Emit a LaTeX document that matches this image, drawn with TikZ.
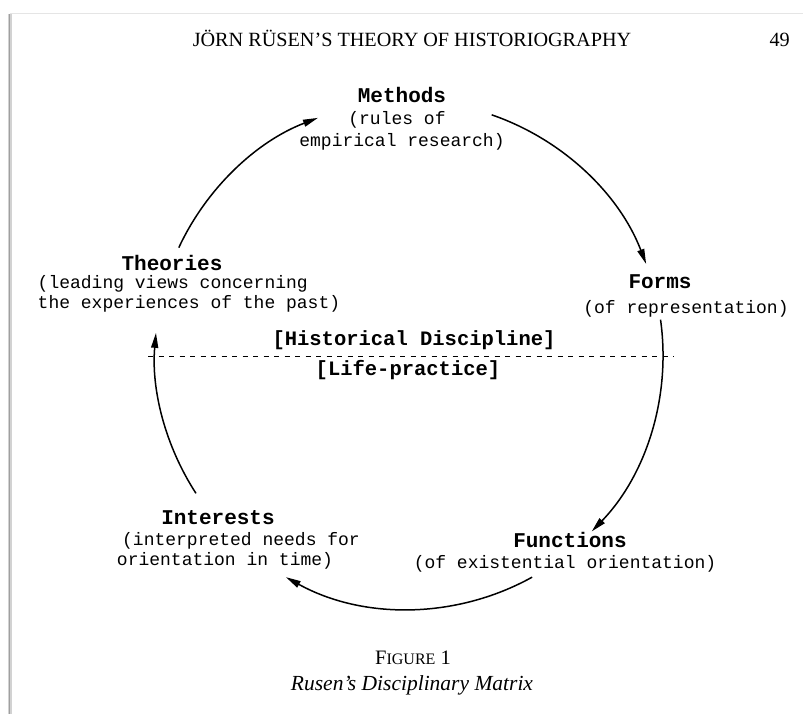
\documentclass[tikz,border=0pt]{standalone}
\usepackage{fontspec}
\setmainfont{Liberation Serif}
\newfontfamily\monofam{Liberation Mono}
\usetikzlibrary{arrows.meta,calc}
\begin{document}
\begin{tikzpicture}[x=1pt,y=-1pt,
  head/.style={font=\monofam\bfseries\fontsize{21}{22}\selectfont, inner sep=0pt, anchor=base},
  desc/.style={font=\monofam\fontsize{18}{22}\selectfont, inner sep=0pt, anchor=base},
  brk/.style={font=\monofam\bfseries\fontsize{20.5}{22}\selectfont, inner sep=0pt, anchor=base},
  serif/.style={font=\fontsize{20.2}{22}\selectfont, inner sep=0pt, anchor=base},
  cyc/.style={line width=1.5pt, -{Triangle[length=15pt,width=7pt]}},
]
\useasboundingbox (0,0) rectangle (803,714);
\fill[white] (0,0) rectangle (803,714);
% page edge shadow
\coordinate (tl) at (10,13.5);
\coordinate (tr) at (803,13.5);
\coordinate (lt) at (9.5,14);
\coordinate (lb) at (9.5,714);
\draw[gray!20, line width=1pt] (tl) -- (tr);
\draw[gray!35, line width=4pt] (lt) -- (lb);
\draw[gray!75, line width=1.2pt] (lt) -- (lb);

% header
\node[serif] (header) at (412,47) {JÖRN RÜSEN'S THEORY OF HISTORIOGRAPHY};
\node[serif, anchor=base east] (pageno) at (790,47) {49};

% Methods
\node[head] (methods) at (402,103) {Methods};
\node[desc] (methods1) at (397,125) {(rules of};
\node[desc] (methods2) at (402,147) {empirical research)};

% Theories
\node[head] (theories) at (172,270) {Theories};
\node[desc, anchor=base west] (theories1) at (37.5,288) {(leading views concerning};
\node[desc, anchor=base west] (theories2) at (37.5,308) {the experiences of the past)};

% Forms
\node[head] (forms) at (660,288) {Forms};
\node[desc] (forms1) at (686,313) {(of representation)};

% divider
\node[brk] (hist) at (414,345) {[Historical Discipline]};
\coordinate (dl) at (148,356);
\coordinate (dr) at (674,356);
\draw[line width=1pt, dash pattern=on 5pt off 5.5pt] (dl) -- (dr);
\node[brk] (life) at (408,375) {[Life-practice]};

% Interests
\node[head] (interests) at (218,524) {Interests};
\node[desc] (interests1) at (241,545) {(interpreted needs for};
\node[desc] (interests2) at (225,565) {orientation in time)};

% Functions
\node[head] (functions) at (570,547) {Functions};
\node[desc] (functions1) at (565,568) {(of existential orientation)};

% caption
\node[serif, font=\fontsize{20.5}{22}\selectfont] (figno) at (413,664) {F{\fontsize{16}{17}\selectfont IGURE} 1};
\node[serif, font=\fontsize{21.5}{22}\selectfont] (figcap) at (412,690) {\textit{Rusen's Disciplinary Matrix}};

% cycle arrows on a circle
\coordinate (O) at (409,355);
\coordinate (a1) at ($(O)+(-155:254)$);
\coordinate (a2) at ($(O)+(-71:254)$);
\coordinate (a3) at ($(O)+(-8:254)$);
\coordinate (a4) at ($(O)+(61:254)$);
\coordinate (a5) at ($(O)+(-213:254)$);
\draw[cyc] (a1) arc[start angle=-155, end angle=-111, radius=254];
\draw[cyc] (a2) arc[start angle=-71, end angle=-21, radius=254];
\draw[cyc] (a3) arc[start angle=-8, end angle=44, radius=254];
\draw[cyc] (a4) arc[start angle=61, end angle=119, radius=254];
\draw[cyc] (a5) arc[start angle=-213, end angle=-175, radius=254];
\end{tikzpicture}
\end{document}
